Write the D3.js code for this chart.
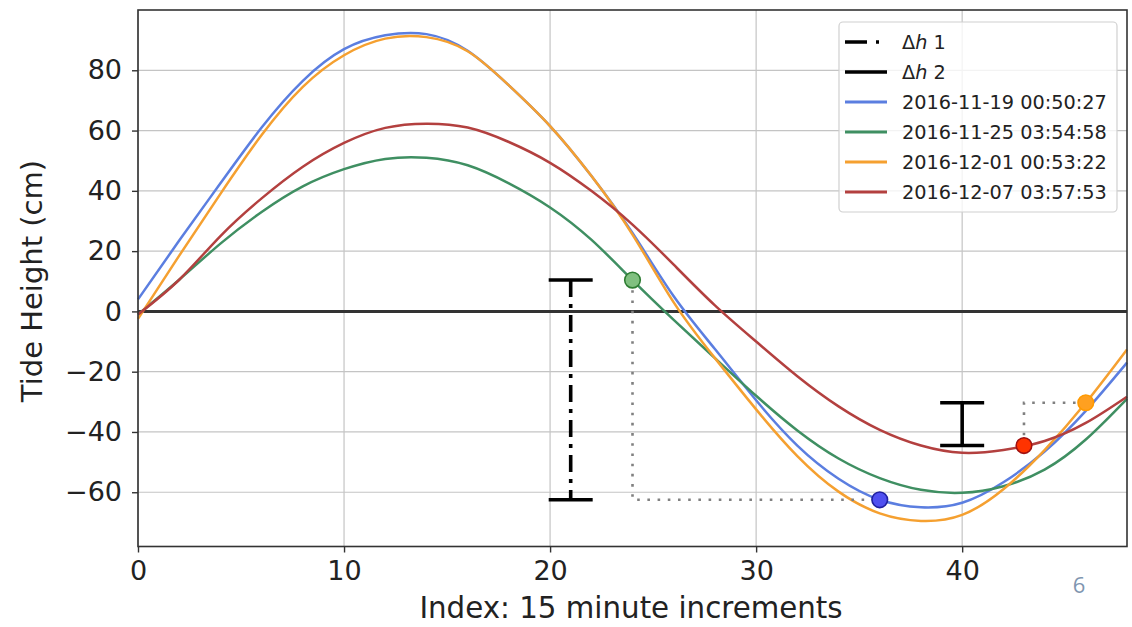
<!DOCTYPE html>
<html>
<head>
<meta charset="utf-8">
<script src="https://cdn.jsdelivr.net/npm/d3@7"></script>
<style>
	body { margin: 0; background: #fff; }
	svg { display: block; }
</style>
</head>
<body>
<div id="chart"></div>
<script>

// sample index (15 minute steps) and tide heights in cm
const indexSteps = [0, 2, 4, 6, 8, 10, 12, 14, 16, 18, 20, 22, 24, 26, 28, 30, 32, 34, 36, 38, 40, 42, 44, 46, 48];
const tide1119 = [4, 23.5, 42.5, 61, 76.5, 87, 91.6, 92, 86.5, 75, 61.5, 45, 26, 5, -12.5, -29.5, -44.5, -55.5, -62.5, -65, -63.5, -56.7, -46.5, -33, -17];
const tide1125 = [-1, 10.5, 22.5, 33, 41.5, 47.2, 50.6, 51, 48.5, 42.5, 34.5, 23.8, 10.4, -2.8, -15.5, -28, -39.5, -48.8, -55.3, -59.2, -60.2, -58, -52.5, -42.5, -29];
const tide1201 = [-2.5, 18.5, 39, 58.5, 74.5, 85, 90.5, 91, 86.3, 75, 61.5, 45, 25.5, 3, -15.5, -32.5, -48, -59.8, -67, -69.5, -67.5, -59, -46, -30.3, -12.6];
const tide1207 = [-1, 10.5, 25, 37.5, 48, 55.9, 60.9, 62.3, 61, 56.2, 49.3, 40, 28.8, 15.5, 2, -10, -21.5, -31.5, -39.3, -44.5, -46.9, -46, -43, -37, -28.3];

const seriesLabels = ["2016-11-19 00:50:27", "2016-11-25 03:54:58", "2016-12-01 00:53:22", "2016-12-07 03:57:53"];

// highlighted points: green start, blue trough, red / orange pair
const markerIdx = [24, 36, 43, 46];
const markerVals = [10.4, -62.5, -44.5, -30.3];

const xTicks = [0, 10, 20, 30, 40];
const yTicks = [-60, -40, -20, 0, 20, 40, 60, 80];

const width = 1132, height = 627;
const plot = { left: 138, right: 1127, top: 10, bottom: 546.5 };
const font = "DejaVu Sans, sans-serif";

const lineColors = ["#5b7ee0", "#3f8f62", "#f5a030", "#b3403f"];
const markerFill = ["#80c080", "#5050f0", "#ff3300", "#ffa020"];
const markerStroke = ["#2e7d32", "#2020a0", "#a01010", "#ff9a00"];

const x = d3.scaleLinear().domain([0, 48]).range([plot.left, plot.right]);
const y = d3.scaleLinear().domain([-78, 100]).range([plot.bottom, plot.top]);

const svg = d3.select("#chart").append("svg")
	.attr("width", width)
	.attr("height", height);

// grid
svg.append("g").selectAll("line")
	.data(xTicks).enter().append("line")
	.attr("x1", d => x(d)).attr("x2", d => x(d))
	.attr("y1", plot.top).attr("y2", plot.bottom)
	.attr("stroke", "#c4c4c4").attr("stroke-width", 1.2);

svg.append("g").selectAll("line")
	.data(yTicks).enter().append("line")
	.attr("x1", plot.left).attr("x2", plot.right)
	.attr("y1", d => y(d)).attr("y2", d => y(d))
	.attr("stroke", "#c4c4c4").attr("stroke-width", 1.2);

// zero line
svg.append("line")
	.attr("x1", plot.left).attr("x2", plot.right)
	.attr("y1", y(0)).attr("y2", y(0))
	.attr("stroke", "#333").attr("stroke-width", 3);

const line = d3.line()
	.x((d, i) => x(indexSteps[i]))
	.y(d => y(d))
	.curve(d3.curveNatural);

const series = [tide1119, tide1125, tide1201, tide1207];

svg.append("g").selectAll("path")
	.data(series).enter().append("path")
	.attr("d", line)
	.attr("fill", "none")
	.attr("stroke", (d, i) => lineColors[i])
	.attr("stroke-width", 2.5);

// dotted connectors between marker pairs
const dotted = (a, b) => {
	svg.append("path")
		.attr("d", "M" + x(markerIdx[a]) + "," + y(markerVals[a]) +
			"L" + x(markerIdx[a]) + "," + y(markerVals[b]) +
			"L" + x(markerIdx[b]) + "," + y(markerVals[b]))
		.attr("fill", "none")
		.attr("stroke", "#808080")
		.attr("stroke-width", 2.6)
		.attr("stroke-dasharray", "2.6,7.6");
};
dotted(0, 1);
dotted(2, 3);

// delta h error bars
const errorBar = (xi, top, bottom, dash) => {
	const g = svg.append("g").attr("stroke", "#000").attr("stroke-width", 3.6);
	g.append("line")
		.attr("x1", x(xi)).attr("x2", x(xi))
		.attr("y1", y(top)).attr("y2", y(bottom))
		.attr("stroke-dasharray", dash);
	[top, bottom].forEach(v => {
		g.append("line")
			.attr("x1", x(xi) - 22).attr("x2", x(xi) + 22)
			.attr("y1", y(v)).attr("y2", y(v));
	});
};
errorBar(21, markerVals[0], markerVals[1], "17,7,4,7");
errorBar(40, markerVals[3], markerVals[2], null);

// markers: green, blue, red, orange
svg.append("g").selectAll("circle")
	.data(markerIdx).enter().append("circle")
	.attr("cx", d => x(d))
	.attr("cy", (d, i) => y(markerVals[i]))
	.attr("r", 7.8)
	.attr("fill", (d, i) => markerFill[i])
	.attr("stroke", (d, i) => markerStroke[i])
	.attr("stroke-width", 1.6);

// axes
const minus = d => d < 0 ? "\u2212" + Math.abs(d) : d;

const xAxis = svg.append("g")
	.attr("transform", "translate(0," + plot.bottom + ")")
	.call(d3.axisBottom(x).tickValues(xTicks).tickSize(6).tickPadding(8).tickFormat(minus));

const yAxis = svg.append("g")
	.attr("transform", "translate(" + plot.left + ",0)")
	.call(d3.axisLeft(y).tickValues(yTicks).tickSize(6).tickPadding(10).tickFormat(minus));

[xAxis, yAxis].forEach(a => {
	a.select(".domain").remove();
	a.selectAll("line").attr("stroke", "#333").attr("stroke-width", 1.4);
	a.selectAll("text")
		.style("font-family", font)
		.style("font-size", "27px")
		.attr("fill", "#222");
});

// frame
svg.append("rect")
	.attr("x", plot.left).attr("y", plot.top)
	.attr("width", plot.right - plot.left)
	.attr("height", plot.bottom - plot.top)
	.attr("fill", "none")
	.attr("stroke", "#333")
	.attr("stroke-width", 1.6);

// axis labels
svg.append("text")
	.attr("x", 631)
	.attr("y", 618)
	.attr("text-anchor", "middle")
	.style("font-family", font)
	.style("font-size", "29.3px")
	.attr("fill", "#222")
	.text("Index: 15 minute increments");

svg.append("text")
	.attr("transform", "translate(42,281) rotate(-90)")
	.attr("text-anchor", "middle")
	.style("font-family", font)
	.style("font-size", "29px")
	.attr("fill", "#222")
	.text("Tide Height (cm)");

// legend
const legend = svg.append("g");
legend.append("rect")
	.attr("x", 839).attr("y", 22)
	.attr("width", 278).attr("height", 190)
	.attr("rx", 4)
	.attr("fill", "#fff").attr("fill-opacity", 0.8)
	.attr("stroke", "#d0d0d0").attr("stroke-width", 1.2);

const rowY = k => 42 + k * 30;
const legendItems = [
	{ label: "1", color: "#000", dash: "22,9,3,30", w: 3.4, delta: true },
	{ label: "2", color: "#000", dash: null, w: 3.4, delta: true }
].concat(seriesLabels.map((s, i) => ({ label: s, color: lineColors[i], dash: null, w: 3 })));

legendItems.forEach((it, k) => {
	legend.append("line")
		.attr("x1", 845).attr("x2", 887)
		.attr("y1", rowY(k)).attr("y2", rowY(k))
		.attr("stroke", it.color)
		.attr("stroke-width", it.w)
		.attr("stroke-dasharray", it.dash);
	const t = legend.append("text")
		.attr("x", 902).attr("y", rowY(k))
		.attr("dy", "0.36em")
		.style("font-family", font)
		.style("font-size", "19.3px")
		.attr("fill", "#222");
	if (it.delta) {
		t.append("tspan").text("\u0394");
		t.append("tspan").style("font-style", "italic").text("h");
		t.append("tspan").text(" " + it.label);
	} else {
		t.text(it.label);
	}
});

// slide page number
svg.append("text")
	.attr("x", 1079).attr("y", 593)
	.attr("text-anchor", "middle")
	.style("font-family", "Open Sans, sans-serif")
	.style("font-size", "22px")
	.attr("fill", "#7f96b0")
	.text("6");

</script>
</body>
</html>
